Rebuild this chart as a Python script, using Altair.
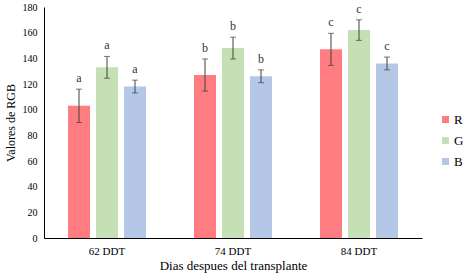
import altair as alt
import pandas as pd

categories = ["62 DDT", "74 DDT", "84 DDT"]
series = ["R", "G", "B"]
r_vals = [103, 127, 147]
g_vals = [133, 148, 162]
b_vals = [118, 126, 136]
r_err = [13, 12.5, 12.5]
g_err = [8.5, 8.5, 8]
b_err = [5, 5, 5]
letters = ["a", "b", "c"]
colors = ["#FF7C80", "#C5E0B4", "#B4C7E7"]

rows = []
for i, c in enumerate(categories):
    for s, v, e in zip(series, [r_vals, g_vals, b_vals], [r_err, g_err, b_err]):
        rows.append({"cat": c, "serie": s, "val": v[i], "lo": v[i] - e[i], "hi": v[i] + e[i], "letra": letters[i]})
df = pd.DataFrame(rows)

FONT = "Liberation Serif"

xscale = alt.Scale(paddingInner=0, paddingOuter=0)
xaxis = alt.Axis(title="Dias despues del transplante", labelAngle=0, ticks=False,
                 labelFont=FONT, labelFontSize=11, labelColor="black", labelPadding=7,
                 titleFont=FONT, titleFontSize=13, titleFontWeight="normal", titleColor="black",
                 titlePadding=3, domainColor="black")
x = alt.X("cat:N", sort=categories, scale=xscale, axis=xaxis)
xo = alt.XOffset("serie:N", sort=series, scale=alt.Scale(paddingInner=0.214, paddingOuter=0.857))
yscale = alt.Scale(domain=[0, 180])
yaxis = alt.Axis(title="Valores de RGB", values=list(range(0, 181, 20)), ticks=False, grid=False,
                 labelOverlap=False,
                 labelFont=FONT, labelFontSize=10, labelColor="black", labelPadding=7,
                 titleFont=FONT, titleFontSize=12, titleFontWeight="normal", titleColor="black",
                 titlePadding=5, domainColor="black")

base = alt.Chart(df)

bars = base.mark_bar().encode(
    x=x, xOffset=xo,
    y=alt.Y("val:Q", scale=yscale, axis=yaxis),
    color=alt.Color("serie:N", sort=series, scale=alt.Scale(domain=series, range=colors),
                    legend=alt.Legend(title=None, orient="none", legendX=395, legendY=106,
                                      symbolType="square", symbolSize=49, symbolStrokeWidth=0,
                                      labelFont=FONT, labelFontSize=13, labelColor="black",
                                      rowPadding=7, labelOffset=2)),
)

rule = base.mark_rule(color="#404040", strokeWidth=1).encode(
    x=x, xOffset=xo, y=alt.Y("lo:Q", scale=yscale, axis=yaxis), y2="hi:Q")
cap_hi = base.mark_tick(color="#404040", thickness=1, size=6, orient="horizontal").encode(
    x=x, xOffset=xo, y=alt.Y("hi:Q", scale=yscale, axis=yaxis))
cap_lo = base.mark_tick(color="#404040", thickness=1, size=6, orient="horizontal").encode(
    x=x, xOffset=xo, y=alt.Y("lo:Q", scale=yscale, axis=yaxis))
text = base.mark_text(font=FONT, fontSize=12, color="#333333", baseline="bottom", dy=-4).encode(
    x=x, xOffset=xo, y=alt.Y("hi:Q", scale=yscale, axis=yaxis), text="letra:N")

chart = alt.layer(bars, rule, cap_hi, cap_lo, text).properties(
    width=378, height=231,
    autosize=alt.AutoSizeParams(type="none"),
    padding={"left": 44, "top": 7, "right": 42, "bottom": 39},
).configure_view(stroke=None).configure_axis(grid=False)

chart.save("out.html", embed_options={"renderer": "svg", "actions": False})
